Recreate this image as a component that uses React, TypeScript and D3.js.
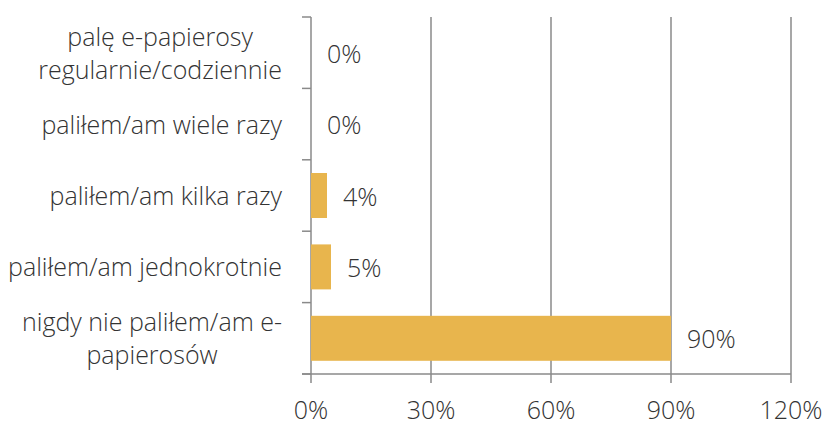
import React, { useRef, useEffect } from 'react';
import * as d3 from 'd3';

// categories top to bottom, each wrapped the way the chart shows them
const categoryLines: string[][] = [
  ['palę e-papierosy', 'regularnie/codziennie'],
  ['paliłem/am wiele razy'],
  ['paliłem/am kilka razy'],
  ['paliłem/am jednokrotnie'],
  ['nigdy nie paliłem/am e-', 'papierosów'],
];
const shares = [0, 0, 0.04, 0.05, 0.9];
const xTicks = [0, 0.3, 0.6, 0.9, 1.2];

const W = 822;
const H = 423;
const FONT = '"Open Sans", "Segoe UI", sans-serif';
const FS = 25;
const TEXT = '#333333';
const GRID = '#8a8a8a';
const BAR = '#E8B54D';

const App = () => {
  const svgRef = useRef<SVGSVGElement | null>(null);

  useEffect(() => {
    if (!svgRef.current) return;
    const svg = d3.select(svgRef.current);
    svg.selectAll('*').remove();

    const left = 311;
    const right = 791;
    const top = 17;
    const bottom = 374;
    const tick = 9;

    const keys = categoryLines.map((_, i) => String(i));
    const x = d3.scaleLinear().domain([0, 1.2]).range([left, right]);
    const y = d3.scaleBand().domain(keys).range([top, bottom]).paddingInner(0.37).paddingOuter(0.185);
    const step = y.step();

    // vertical gridlines (and their ticks below the axis)
    svg.append('g')
      .selectAll('line')
      .data(xTicks)
      .enter()
      .append('line')
      .attr('x1', d => x(d))
      .attr('x2', d => x(d))
      .attr('y1', top)
      .attr('y2', bottom + tick)
      .attr('stroke', GRID)
      .attr('stroke-width', 1.5);

    // bottom axis line
    svg.append('line')
      .attr('x1', left - tick)
      .attr('x2', right)
      .attr('y1', bottom)
      .attr('y2', bottom)
      .attr('stroke', GRID)
      .attr('stroke-width', 1.5);

    // category boundary ticks on the left axis
    const bounds = d3.range(keys.length + 1).map(i => top + i * step);
    svg.append('g')
      .selectAll('line')
      .data(bounds)
      .enter()
      .append('line')
      .attr('x1', left - tick)
      .attr('x2', left)
      .attr('y1', d => d)
      .attr('y2', d => d)
      .attr('stroke', GRID)
      .attr('stroke-width', 1.5);

    // bars
    svg.append('g')
      .selectAll('rect')
      .data(shares)
      .enter()
      .append('rect')
      .attr('x', x(0))
      .attr('y', (_, i) => y(keys[i]) as number)
      .attr('width', d => x(d) - x(0))
      .attr('height', y.bandwidth())
      .attr('fill', BAR);

    // value labels
    svg.append('g')
      .selectAll('text')
      .data(shares)
      .enter()
      .append('text')
      .attr('x', d => x(d) + 16)
      .attr('y', (_, i) => (y(keys[i]) as number) + y.bandwidth() / 2 + 10)
      .attr('font-family', FONT)
      .attr('font-weight', 300)
      .attr('font-size', FS)
      .attr('fill', TEXT)
      .text(d => `${Math.round(d * 100)}%`);

    // x tick labels
    svg.append('g')
      .selectAll('text')
      .data(xTicks)
      .enter()
      .append('text')
      .attr('x', d => x(d))
      .attr('y', 419)
      .attr('text-anchor', 'middle')
      .attr('font-family', FONT)
      .attr('font-weight', 300)
      .attr('font-size', FS)
      .attr('fill', TEXT)
      .text(d => `${Math.round(d * 100)}%`);

    // category labels: lines centred on each other, block right-aligned
    const labelRight = 282;
    const lineGap = 33;
    categoryLines.forEach((lines, i) => {
      const cy = (y(keys[i]) as number) + y.bandwidth() / 2;
      const g = svg.append('g');
      const texts = lines.map((line, j) =>
        g.append('text')
          .attr('y', cy + (j - (lines.length - 1) / 2) * lineGap + 9.5)
          .attr('text-anchor', 'middle')
          .attr('font-family', FONT)
          .attr('font-weight', 300)
          .attr('font-size', FS)
          .attr('fill', TEXT)
          .text(line)
      );
      const widest = d3.max(texts, t => (t.node() as SVGTextElement).getComputedTextLength()) || 0;
      texts.forEach(t => t.attr('x', labelRight - widest / 2));
    });
  }, []);

  return (
    <svg
      ref={svgRef}
      width={W}
      height={H}
      style={{ position: 'absolute', left: 0, top: 0, background: '#fff' }}
    />
  );
};

export default App;
